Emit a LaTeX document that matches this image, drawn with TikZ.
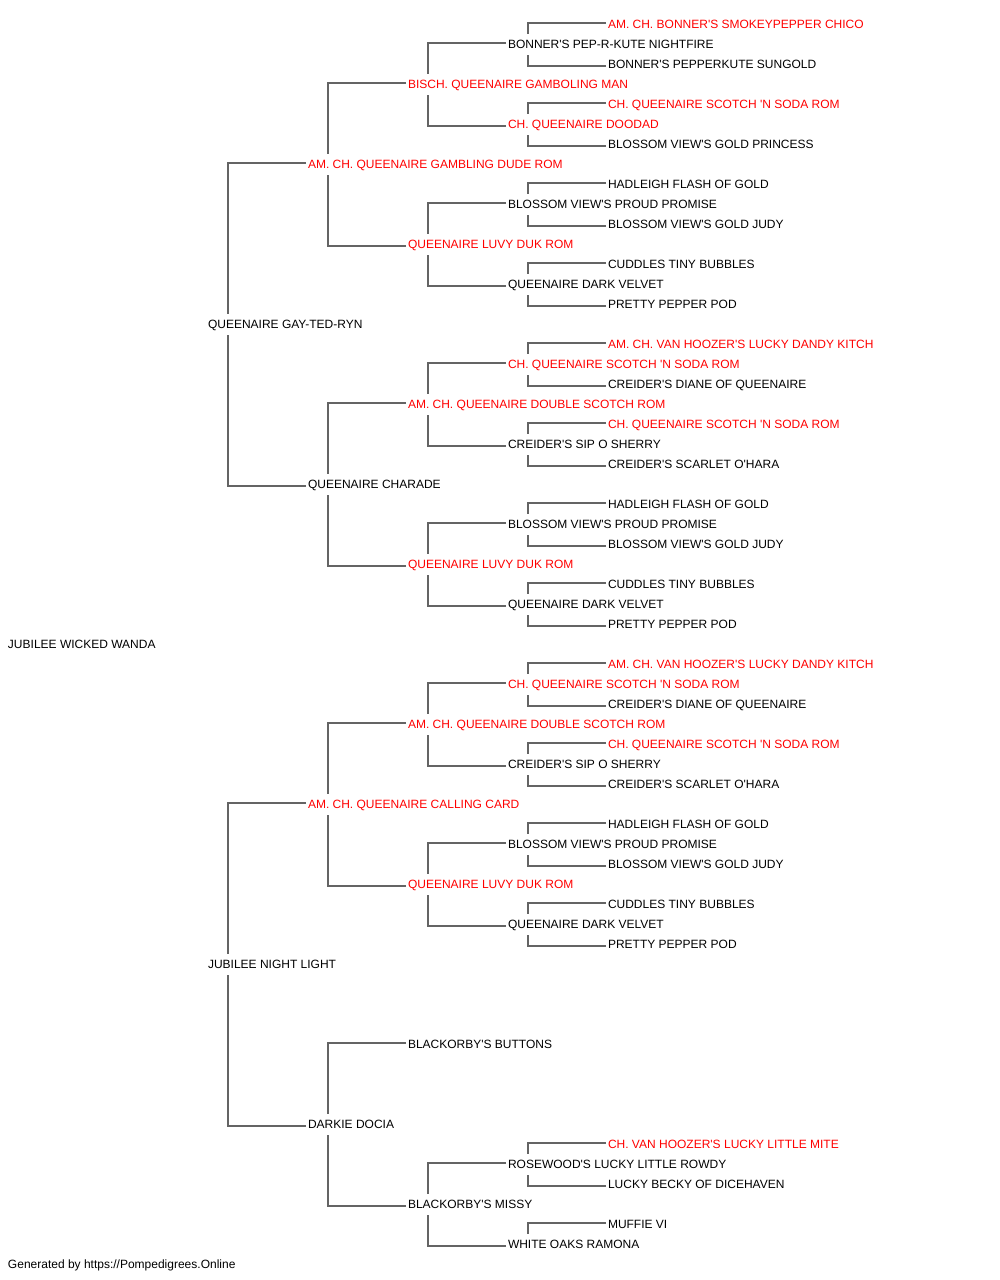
\documentclass[tikz,border=0pt]{standalone}
\usepackage{fontspec}
\newfontfamily\pf{Liberation Sans}
\definecolor{pred}{RGB}{255,0,0}
\definecolor{plink}{RGB}{100,100,100}
\tikzset{
  dog/.style={anchor=base west, inner sep=0pt, outer sep=0pt, font=\pf\fontsize{12}{14}\selectfont, text=black},
  hl/.style={dog, text=pred},
  link/.style={draw=plink, line width=2pt}
}
\newcommand\rowy[1]{-28.3-20*#1}
\newcommand\sire[2]{\draw[link] ([xshift=-2pt,yshift=5.8pt]#2.base west) -| ([xshift=20pt,yshift=14.8pt]#1.base west);}
\newcommand\dam[2]{\draw[link] ([xshift=-2pt,yshift=2.8pt]#2.base west) -| ([xshift=20pt,yshift=-6.2pt]#1.base west);}
\begin{document}
\begin{tikzpicture}[x=1pt,y=1pt]
\useasboundingbox (0,0) rectangle (1000,-1280);
% gen 0
\node[dog] (n31) at (8,{\rowy{31}}) {JUBILEE WICKED WANDA};
% gen 1
\node[dog] (n15) at (208,{\rowy{15}}) {QUEENAIRE GAY-TED-RYN};
\node[dog] (n47) at (208,{\rowy{47}}) {JUBILEE NIGHT LIGHT};
% gen 2
\node[hl] (n7) at (308,{\rowy{7}}) {AM. CH. QUEENAIRE GAMBLING DUDE ROM};
\node[dog] (n23) at (308,{\rowy{23}}) {QUEENAIRE CHARADE};
\node[hl] (n39) at (308,{\rowy{39}}) {AM. CH. QUEENAIRE CALLING CARD};
\node[dog] (n55) at (308,{\rowy{55}}) {DARKIE DOCIA};
% gen 3
\node[hl] (n3) at (408,{\rowy{3}}) {BISCH. QUEENAIRE GAMBOLING MAN};
\node[hl] (n11) at (408,{\rowy{11}}) {QUEENAIRE LUVY DUK ROM};
\node[hl] (n19) at (408,{\rowy{19}}) {AM. CH. QUEENAIRE DOUBLE SCOTCH ROM};
\node[hl] (n27) at (408,{\rowy{27}}) {QUEENAIRE LUVY DUK ROM};
\node[hl] (n35) at (408,{\rowy{35}}) {AM. CH. QUEENAIRE DOUBLE SCOTCH ROM};
\node[hl] (n43) at (408,{\rowy{43}}) {QUEENAIRE LUVY DUK ROM};
\node[dog] (n51) at (408,{\rowy{51}}) {BLACKORBY'S BUTTONS};
\node[dog] (n59) at (408,{\rowy{59}}) {BLACKORBY'S MISSY};
% gen 4
\node[dog] (n1) at (508,{\rowy{1}}) {BONNER'S PEP-R-KUTE NIGHTFIRE};
\node[hl] (n5) at (508,{\rowy{5}}) {CH. QUEENAIRE DOODAD};
\node[dog] (n9) at (508,{\rowy{9}}) {BLOSSOM VIEW'S PROUD PROMISE};
\node[dog] (n13) at (508,{\rowy{13}}) {QUEENAIRE DARK VELVET};
\node[hl] (n17) at (508,{\rowy{17}}) {CH. QUEENAIRE SCOTCH 'N SODA ROM};
\node[dog] (n21) at (508,{\rowy{21}}) {CREIDER'S SIP O SHERRY};
\node[dog] (n25) at (508,{\rowy{25}}) {BLOSSOM VIEW'S PROUD PROMISE};
\node[dog] (n29) at (508,{\rowy{29}}) {QUEENAIRE DARK VELVET};
\node[hl] (n33) at (508,{\rowy{33}}) {CH. QUEENAIRE SCOTCH 'N SODA ROM};
\node[dog] (n37) at (508,{\rowy{37}}) {CREIDER'S SIP O SHERRY};
\node[dog] (n41) at (508,{\rowy{41}}) {BLOSSOM VIEW'S PROUD PROMISE};
\node[dog] (n45) at (508,{\rowy{45}}) {QUEENAIRE DARK VELVET};
\node[dog] (n57) at (508,{\rowy{57}}) {ROSEWOOD'S LUCKY LITTLE ROWDY};
\node[dog] (n61) at (508,{\rowy{61}}) {WHITE OAKS RAMONA};
% gen 5
\node[hl] (n0) at (608,{\rowy{0}}) {AM. CH. BONNER'S SMOKEYPEPPER CHICO};
\node[dog] (n2) at (608,{\rowy{2}}) {BONNER'S PEPPERKUTE SUNGOLD};
\node[hl] (n4) at (608,{\rowy{4}}) {CH. QUEENAIRE SCOTCH 'N SODA ROM};
\node[dog] (n6) at (608,{\rowy{6}}) {BLOSSOM VIEW'S GOLD PRINCESS};
\node[dog] (n8) at (608,{\rowy{8}}) {HADLEIGH FLASH OF GOLD};
\node[dog] (n10) at (608,{\rowy{10}}) {BLOSSOM VIEW'S GOLD JUDY};
\node[dog] (n12) at (608,{\rowy{12}}) {CUDDLES TINY BUBBLES};
\node[dog] (n14) at (608,{\rowy{14}}) {PRETTY PEPPER POD};
\node[hl] (n16) at (608,{\rowy{16}}) {AM. CH. VAN HOOZER'S LUCKY DANDY KITCH};
\node[dog] (n18) at (608,{\rowy{18}}) {CREIDER'S DIANE OF QUEENAIRE};
\node[hl] (n20) at (608,{\rowy{20}}) {CH. QUEENAIRE SCOTCH 'N SODA ROM};
\node[dog] (n22) at (608,{\rowy{22}}) {CREIDER'S SCARLET O'HARA};
\node[dog] (n24) at (608,{\rowy{24}}) {HADLEIGH FLASH OF GOLD};
\node[dog] (n26) at (608,{\rowy{26}}) {BLOSSOM VIEW'S GOLD JUDY};
\node[dog] (n28) at (608,{\rowy{28}}) {CUDDLES TINY BUBBLES};
\node[dog] (n30) at (608,{\rowy{30}}) {PRETTY PEPPER POD};
\node[hl] (n32) at (608,{\rowy{32}}) {AM. CH. VAN HOOZER'S LUCKY DANDY KITCH};
\node[dog] (n34) at (608,{\rowy{34}}) {CREIDER'S DIANE OF QUEENAIRE};
\node[hl] (n36) at (608,{\rowy{36}}) {CH. QUEENAIRE SCOTCH 'N SODA ROM};
\node[dog] (n38) at (608,{\rowy{38}}) {CREIDER'S SCARLET O'HARA};
\node[dog] (n40) at (608,{\rowy{40}}) {HADLEIGH FLASH OF GOLD};
\node[dog] (n42) at (608,{\rowy{42}}) {BLOSSOM VIEW'S GOLD JUDY};
\node[dog] (n44) at (608,{\rowy{44}}) {CUDDLES TINY BUBBLES};
\node[dog] (n46) at (608,{\rowy{46}}) {PRETTY PEPPER POD};
\node[hl] (n56) at (608,{\rowy{56}}) {CH. VAN HOOZER'S LUCKY LITTLE MITE};
\node[dog] (n58) at (608,{\rowy{58}}) {LUCKY BECKY OF DICEHAVEN};
\node[dog] (n60) at (608,{\rowy{60}}) {MUFFIE VI};
% footer
\node[dog] (foot) at (8,{\rowy{62}}) {Generated by https://Pompedigrees.Online};
% connectors
\sire{n15}{n7}\dam{n15}{n23}
\sire{n47}{n39}\dam{n47}{n55}
\sire{n7}{n3}\dam{n7}{n11}
\sire{n23}{n19}\dam{n23}{n27}
\sire{n39}{n35}\dam{n39}{n43}
\sire{n55}{n51}\dam{n55}{n59}
\sire{n3}{n1}\dam{n3}{n5}
\sire{n11}{n9}\dam{n11}{n13}
\sire{n19}{n17}\dam{n19}{n21}
\sire{n27}{n25}\dam{n27}{n29}
\sire{n35}{n33}\dam{n35}{n37}
\sire{n43}{n41}\dam{n43}{n45}
\sire{n59}{n57}\dam{n59}{n61}
\sire{n1}{n0}\dam{n1}{n2}
\sire{n5}{n4}\dam{n5}{n6}
\sire{n9}{n8}\dam{n9}{n10}
\sire{n13}{n12}\dam{n13}{n14}
\sire{n17}{n16}\dam{n17}{n18}
\sire{n21}{n20}\dam{n21}{n22}
\sire{n25}{n24}\dam{n25}{n26}
\sire{n29}{n28}\dam{n29}{n30}
\sire{n33}{n32}\dam{n33}{n34}
\sire{n37}{n36}\dam{n37}{n38}
\sire{n41}{n40}\dam{n41}{n42}
\sire{n45}{n44}\dam{n45}{n46}
\sire{n57}{n56}\dam{n57}{n58}
\sire{n61}{n60}
\end{tikzpicture}
\end{document}
